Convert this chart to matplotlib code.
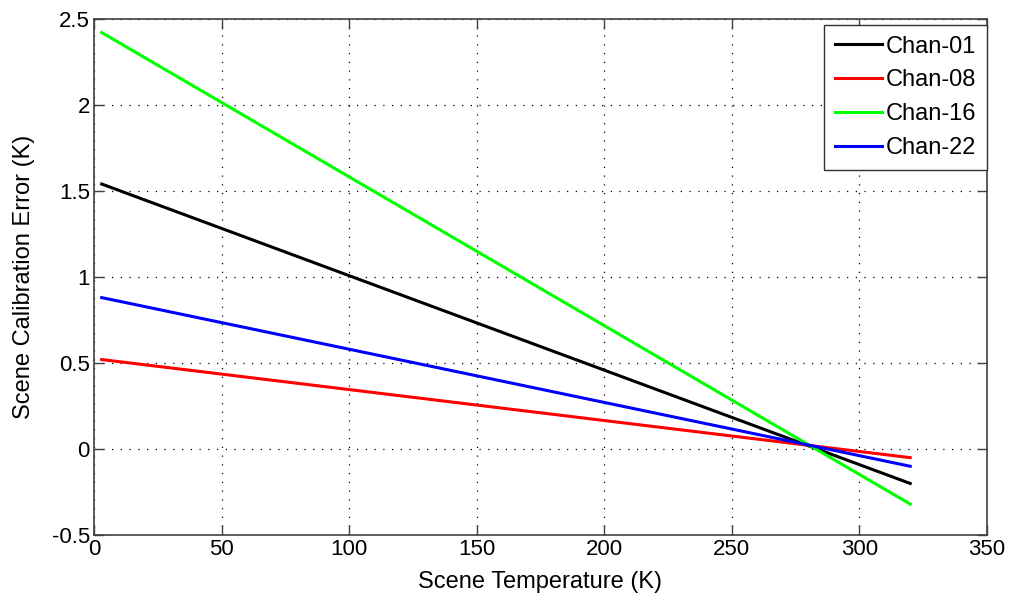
import matplotlib.pyplot as plt

# scene temperature endpoints (K)
scene_temp = [3, 320]

# calibration error at each endpoint (K)
chan_01 = [1.54, -0.20]
chan_08 = [0.52, -0.05]
chan_16 = [2.42, -0.32]
chan_22 = [0.88, -0.10]

channels = ["Chan-01", "Chan-08", "Chan-16", "Chan-22"]
colors = ["#000000", "#ff0000", "#00ff00", "#0000ff"]

plt.rcParams["font.family"] = ["Liberation Sans", "DejaVu Sans"]

fig = plt.figure(figsize=(10.11, 6.06), dpi=100)
ax = fig.add_axes([0.093, 0.117, 0.883, 0.852])

for name, vals, c in zip(channels, [chan_01, chan_08, chan_16, chan_22], colors):
    ax.plot(scene_temp, vals, color=c, linewidth=2.2, label=name)

ax.set_xlim(0, 350)
ax.set_ylim(-0.5, 2.5)
ax.set_xticks(range(0, 351, 50))
ax.set_yticks([-0.5, 0, 0.5, 1, 1.5, 2, 2.5])
ax.set_yticklabels(["-0.5", "0", "0.5", "1", "1.5", "2", "2.5"])
ax.grid(True, color="black", linestyle=(0, (1, 6)), linewidth=0.9)
ax.tick_params(direction="in", length=7, width=1, labelsize=16, pad=3,
               top=True, right=True, color="#404040")
for s in ax.spines.values():
    s.set_color("#404040")
    s.set_linewidth(1.2)

ax.set_xlabel("Scene Temperature (K)", fontsize=17, labelpad=8)
ax.set_ylabel("Scene Calibration Error (K)", fontsize=17, labelpad=12)

leg = ax.legend(loc="upper right", bbox_to_anchor=(1.0, 0.988), fontsize=17,
                fancybox=False, framealpha=1, edgecolor="#303030",
                handlelength=2.0, handletextpad=0.15, labelspacing=0.5,
                borderaxespad=0.0, borderpad=0.45)
leg.get_frame().set_linewidth(1.0)

fig.savefig("out.png", dpi=100)
